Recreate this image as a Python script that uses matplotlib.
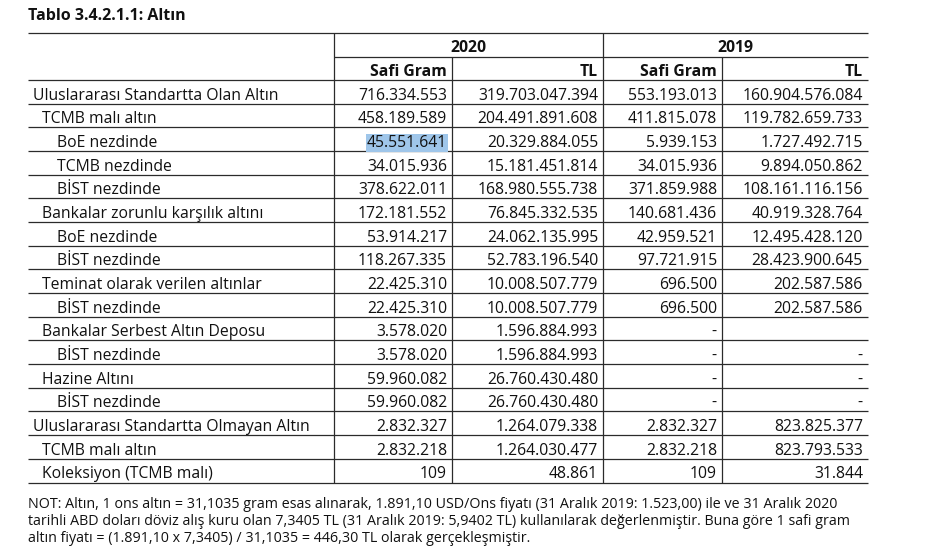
import matplotlib
matplotlib.use("Agg")
import matplotlib.pyplot as plt

# ---------------- data ----------------
title = "Tablo 3.4.2.1.1: Altın"
years = ["2020", "2019"]
sub_headers = ["Safi Gram", "TL", "Safi Gram", "TL"]

row_labels = [
    "Uluslararası Standartta Olan Altın",
    "TCMB malı altın",
    "BoE nezdinde",
    "TCMB nezdinde",
    "BİST nezdinde",
    "Bankalar zorunlu karşılık altını",
    "BoE nezdinde",
    "BİST nezdinde",
    "Teminat olarak verilen altınlar",
    "BİST nezdinde",
    "Bankalar Serbest Altın Deposu",
    "BİST nezdinde",
    "Hazine Altını",
    "BİST nezdinde",
    "Uluslararası Standartta Olmayan Altın",
    "TCMB malı altın",
    "Koleksiyon (TCMB malı)",
]
row_levels = [0, 1, 2, 2, 2, 1, 2, 2, 1, 2, 1, 2, 1, 2, 0, 1, 1]

# None -> "-", "" -> blank
gram_2020 = [716334553, 458189589, 45551641, 34015936, 378622011, 172181552, 53914217,
             118267335, 22425310, 22425310, 3578020, 3578020, 59960082, 59960082,
             2832327, 2832218, 109]
tl_2020 = [319703047394, 204491891608, 20329884055, 15181451814, 168980555738,
           76845332535, 24062135995, 52783196540, 10008507779, 10008507779,
           1596884993, 1596884993, 26760430480, 26760430480, 1264079338,
           1264030477, 48861]
gram_2019 = [553193013, 411815078, 5939153, 34015936, 371859988, 140681436, 42959521,
             97721915, 696500, 696500, None, None, None, None, 2832327, 2832218, 109]
tl_2019 = [160904576084, 119782659733, 1727492715, 9894050862, 108161116156,
           40919328764, 12495428120, 28423900645, 202587586, 202587586, "", None,
           None, None, 823825377, 823793533, 31844]

note_lines = [
    "NOT: Altın, 1 ons altın = 31,1035 gram esas alınarak, 1.891,10 USD/Ons fiyatı (31 Aralık 2019: 1.523,00) ile ve 31 Aralık 2020",
    "tarihli ABD doları döviz alış kuru olan 7,3405 TL (31 Aralık 2019: 5,9402 TL) kullanılarak değerlenmiştir. Buna göre 1 safi gram",
    "altın fiyatı = (1.891,10 x 7,3405) / 31,1035 = 446,30 TL olarak gerçekleşmiştir.",
]


def fmt(v):
    if v is None:
        return "-"
    if v == "":
        return ""
    return f"{v:,}".replace(",", ".")


# ---------------- layout ----------------
W, H = 925, 547
fig = plt.figure(figsize=(W / 100, H / 100), dpi=100)
ax = fig.add_axes([0, 0, 1, 1])
ax.set_xlim(0, W)
ax.set_ylim(H, 0)
ax.axis("off")

FONT = "Open Sans"
NOTE_SIZE = 10.28

fs = 11.3
line_c = "#2b2b2b"
lw = 0.9

x_left, x_right = 28, 868
col_x = [334, 452, 603, 722, 868]
y_top = 33
y_h1 = 57
y_h2 = 80
n = len(row_labels)
row_h = (482.5 - y_h2) / n

ax.text(28, 20, title, fontsize=11.5, fontweight="bold", family=FONT, va="baseline", ha="left", color="#111")

def hline(y, x0, x1):
    ax.plot([x0, x1], [y, y], color=line_c, lw=lw, solid_capstyle="butt")

def vline(x, y0, y1):
    ax.plot([x, x], [y0, y1], color=line_c, lw=lw, solid_capstyle="butt")

y_bottom = y_h2 + n * row_h
hline(y_top, x_left, x_right)
hline(y_h1, col_x[0], x_right)
hline(y_h2, x_left, x_right)
for i in range(1, n + 1):
    hline(y_h2 + i * row_h, x_left, x_right)
vline(col_x[0], y_top, y_bottom)
vline(col_x[1], y_h1, y_bottom)
vline(col_x[2], y_top, y_bottom)
vline(col_x[3], y_h1, y_bottom)

# year headers
ax.text((col_x[0] + col_x[2]) / 2, y_h1 - 5.5, years[0], fontsize=fs, fontweight="bold",
        family=FONT, ha="center", va="baseline", color="#111")
ax.text((col_x[2] + col_x[4]) / 2, y_h1 - 5.5, years[1], fontsize=fs, fontweight="bold",
        family=FONT, ha="center", va="baseline", color="#111")
for j, sh in enumerate(sub_headers):
    ax.text(col_x[j + 1] - 5, y_h2 - 4.5, sh, fontsize=fs, fontweight="bold",
            family=FONT, ha="right", va="baseline", color="#111")

indent = {0: 33, 1: 42, 2: 57}
cols = [gram_2020, tl_2020, gram_2019, tl_2019]
for i in range(n):
    yb = y_h2 + i * row_h + 19.5
    ax.text(indent[row_levels[i]], yb, row_labels[i], fontsize=fs, family=FONT,
            ha="left", va="baseline", color="#111")
    for j, col in enumerate(cols):
        s = fmt(col[i])
        if not s:
            continue
        t = ax.text(col_x[j + 1] - 5, yb, s, fontsize=fs, family=FONT,
                    ha="right", va="baseline", color="#111")
        if i == 2 and j == 0:
            t.set_bbox(dict(facecolor="#9fc6ea", edgecolor="none", pad=0.6))

for k, line in enumerate(note_lines):
    ax.text(28, 508.3 + k * 16.7, line, fontsize=NOTE_SIZE, family=FONT,
            ha="left", va="baseline", color="#111")

fig.savefig("out.png", dpi=100)
